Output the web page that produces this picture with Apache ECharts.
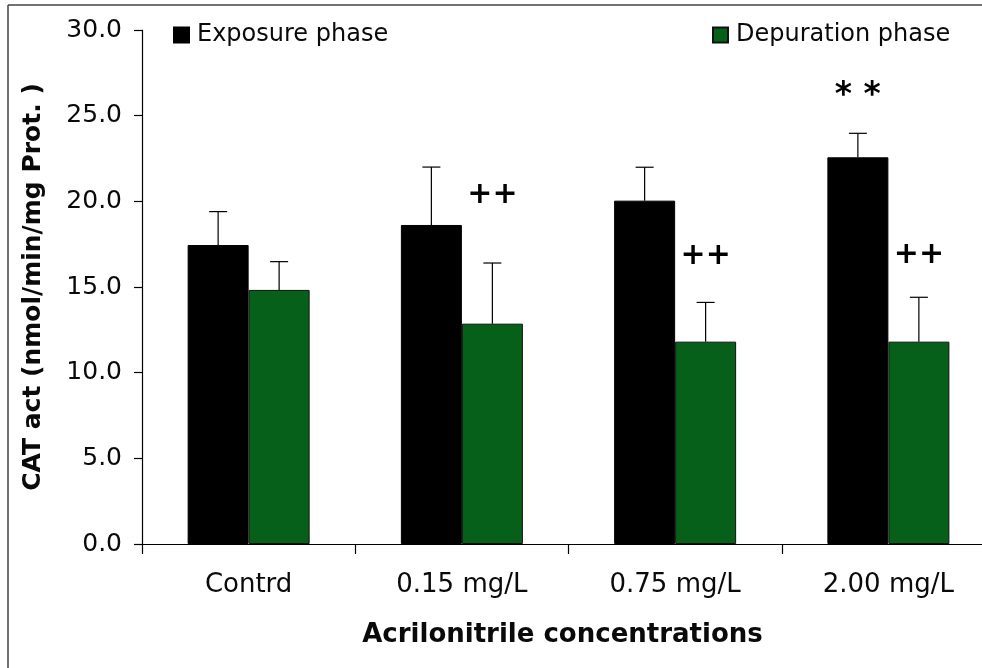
<!DOCTYPE html>
<html>
<head>
<meta charset="utf-8">
<script src="https://cdn.jsdelivr.net/npm/echarts@6/dist/echarts.min.js"></script>
<style>html,body{margin:0;padding:0;background:#fff}#c{width:982px;height:668px}</style>
</head>
<body>
<div id="c"></div>
<script>
var categories = ['Contrd', '0.15 mg/L', '0.75 mg/L', '2.00 mg/L'];
var exposure = [17.45, 18.62, 20.04, 22.57];
var exposureErr = [1.95, 3.38, 1.95, 1.40];
var depuration = [14.83, 12.86, 11.81, 11.81];
var depurationErr = [1.65, 3.54, 2.29, 2.59];
var exposureMarks = ['', '', '', '* *'];
var exposureMarkY = [0, 0, 0, 26.1];
var depurationMarks = ['', '++', '++', '++'];
var depurationMarkY = [0, 20.37, 16.8, 16.85];
var yTicks = [0, 5, 10, 15, 20, 25, 30];

var BAR_W = 61;
var textColor = '#0a0a0a';
var fontFam = 'DejaVu Sans';

function errSeries(name, vals, errs, side) {
  return {
    type: 'custom',
    name: name + ' err',
    z: 5,
    silent: true,
    data: vals.map(function (v, i) { return [i, v, v + errs[i]]; }),
    renderItem: function (params, api) {
      var lo = api.coord([api.value(0), api.value(1)]);
      var hi = api.coord([api.value(0), api.value(2)]);
      var x = lo[0] + side * BAR_W / 2;
      var cap = 9;
      return {
        type: 'group',
        children: [
          { type: 'line', shape: { x1: x, y1: lo[1], x2: x, y2: hi[1] }, style: { stroke: '#000', lineWidth: 1.2 } },
          { type: 'line', shape: { x1: x - cap, y1: hi[1], x2: x + cap, y2: hi[1] }, style: { stroke: '#000', lineWidth: 1.2 } }
        ]
      };
    }
  };
}

function markSeries(name, marks, ys, side, size) {
  return {
    type: 'custom',
    name: name + ' marks',
    z: 6,
    silent: true,
    data: marks.map(function (m, i) { return [i, ys[i]]; }),
    renderItem: function (params, api) {
      var idx = params.dataIndex;
      if (!marks[idx]) return null;
      var p = api.coord([api.value(0), api.value(1)]);
      return {
        type: 'text',
        x: p[0] + side * BAR_W / 2,
        y: p[1],
        style: {
          text: marks[idx],
          font: 'bold ' + size + 'px "DejaVu Sans"',
          fill: '#000',
          align: 'center',
          verticalAlign: 'middle'
        }
      };
    }
  };
}

var chart = echarts.init(document.getElementById('c'));
chart.setOption({
  animation: false,
  backgroundColor: '#fff',
  graphic: [
    { type: 'line', shape: { x1: 8, y1: 5, x2: 982, y2: 5 }, style: { stroke: '#444', lineWidth: 1.5 } },
    { type: 'line', shape: { x1: 8, y1: 5, x2: 8, y2: 668 }, style: { stroke: '#444', lineWidth: 1.5 } }
  ],
  legend: [
    {
      left: 168, top: 18, data: ['Exposure phase'], icon: 'rect', itemWidth: 15, itemHeight: 15, itemGap: 10,
      textStyle: { fontFamily: fontFam, fontSize: 24, color: textColor, padding: [0, 0, 0, 3] }
    },
    {
      left: 707, top: 18, data: ['Depuration phase'], icon: 'rect', itemWidth: 15, itemHeight: 15,
      textStyle: { fontFamily: fontFam, fontSize: 24, color: textColor, padding: [0, 0, 0, 3] }
    }
  ],
  grid: { left: 142, top: 30, bottom: 124, width: 853, containLabel: false, outerBoundsMode: 'none' },
  xAxis: {
    type: 'category',
    data: categories,
    name: 'Acrilonitrile concentrations',
    nameLocation: 'middle',
    nameGap: 78,
    nameTextStyle: { fontFamily: fontFam, fontSize: 26, fontWeight: 'bold', color: textColor, verticalAlign: 'top', padding: [0, 12, 0, 0] },
    axisLine: { lineStyle: { color: '#000', width: 1.2 } },
    axisTick: { show: true, length: 10, lineStyle: { color: '#000', width: 1.2 } },
    axisLabel: { margin: 28, fontFamily: fontFam, fontSize: 26, color: textColor }
  },
  yAxis: {
    type: 'value',
    min: 0, max: 30, interval: 5,
    name: 'CAT act (nmol/min/mg Prot. )',
    nameLocation: 'middle',
    nameGap: 96,
    nameTextStyle: { fontFamily: fontFam, fontSize: 25, fontWeight: 'bold', color: textColor },
    axisLine: { show: true, lineStyle: { color: '#000', width: 1.2 } },
    axisTick: { show: true, length: 8, lineStyle: { color: '#000', width: 1.2 } },
    splitLine: { show: false },
    axisLabel: {
      margin: 20, fontFamily: fontFam, fontSize: 25, color: textColor,
      formatter: function (v) { return yTicks.indexOf(v) >= 0 ? v.toFixed(1) : ''; }
    }
  },
  series: [
    {
      name: 'Exposure phase', type: 'bar', data: exposure, barWidth: BAR_W, barGap: '0%',
      itemStyle: { color: '#000000', borderColor: '#000', borderWidth: 1 }
    },
    {
      name: 'Depuration phase', type: 'bar', data: depuration, barWidth: BAR_W, barGap: '0%',
      itemStyle: { color: '#06601a', borderColor: '#111', borderWidth: 1 }
    },
    errSeries('Exposure', exposure, exposureErr, -1),
    errSeries('Depuration', depuration, depurationErr, 1),
    markSeries('Exposure', exposureMarks, exposureMarkY, -1, 33),
    markSeries('Depuration', depurationMarks, depurationMarkY, 1, 30)
  ]
});
</script>
</body>
</html>
